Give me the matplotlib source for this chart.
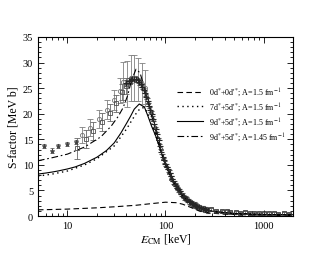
import matplotlib
matplotlib.use("Agg")
import matplotlib.pyplot as plt
from matplotlib.ticker import MultipleLocator, NullFormatter

plt.rcParams['font.family'] = ['Liberation Serif', 'DejaVu Serif']
plt.rcParams['mathtext.fontset'] = 'stix'

# theory curves
x_dash = [5, 10, 20, 30, 50, 70, 100, 130, 150, 180, 220, 280, 400, 1000, 2000]
y_dash = [1.2, 1.35, 1.6, 1.8, 2.1, 2.4, 2.7, 2.6, 2.3, 1.7, 1.0, 0.6, 0.35, 0.15, 0.1]

x_dot = [5, 7, 10, 15, 20, 30, 40, 45, 50, 55, 60, 65, 70, 80, 90, 100, 120, 150, 200, 300, 500, 1000, 2000]
y_dot = [7.8, 8.2, 8.8, 10.0, 11.2, 13.7, 17.0, 18.6, 20.0, 21.0, 21.2, 20.3, 18.8, 15.8, 12.6, 10.0, 6.6, 3.9, 2.0, 0.9, 0.5, 0.3, 0.25]

x_solid = [5, 6, 7, 8, 10, 12, 15, 20, 25, 30, 35, 40, 44, 48, 54, 61, 66, 72, 80, 90, 100, 120, 150, 200, 300, 500, 1000, 2000]
y_solid = [8.2, 8.4, 8.6, 8.8, 9.2, 9.6, 10.3, 11.5, 12.8, 14.3, 16.2, 18.1, 19.5, 20.9, 21.9, 21.3, 19.6, 17.6, 15.5, 12.6, 10.0, 6.6, 3.9, 2.0, 0.9, 0.5, 0.3, 0.25]

x_dd = [5, 7, 10, 15, 22, 28, 33, 37, 41, 45, 50, 55, 60, 65, 70, 80, 90, 100, 120, 150, 200, 300, 500, 1000, 2000]
y_dd = [10.8, 11.4, 12.1, 13.5, 15.5, 17.6, 19.5, 21.2, 23.5, 26.5, 28.7, 28.0, 25.5, 23.0, 20.5, 16.5, 13.0, 10.3, 6.7, 3.9, 2.0, 0.9, 0.5, 0.3, 0.25]

# experimental data
x_star = [5.7, 7.0, 8.1, 9.9, 12.1]
y_star = [13.7, 12.8, 13.6, 14.1, 14.4]
e_star = [0.4, 0.4, 0.4, 0.4, 0.4]

x_sq = [12.6, 15.3, 18.3, 22.5, 27.0, 31.5, 36.0, 40.0]
y_sq = [13.2, 15.0, 16.6, 18.4, 20.2, 22.0, 24.3, 25.4]
e_sq = [2.0, 1.8, 1.8, 1.7, 1.7, 1.6, 1.6, 1.5]

x_circ = [14.0, 17.0, 21.0, 25.5, 30.0, 34.0, 37.0, 40.5, 44.0, 48.0, 52.0, 57.0, 62.0]
y_circ = [15.8, 17.3, 19.0, 20.8, 22.7, 24.5, 26.2, 25.8, 26.9, 27.0, 26.6, 25.9, 25.0]
e_circ = [1.6, 1.6, 1.7, 1.8, 2.0, 2.5, 4.0, 4.5, 4.5, 4.5, 4.2, 4.0, 3.5]

x_band = [40, 42, 44, 46, 48, 50, 52, 54, 56, 58, 60, 62, 64, 66, 68, 70, 72, 74, 77, 80,
          82, 85, 88, 91, 94, 97, 100, 103, 106, 110, 113, 117, 120, 124, 128, 132, 135, 140,
          145, 150, 155, 160, 165, 172, 178, 185, 190, 198, 205, 212, 220, 230, 240, 250, 260, 272]
y_band = [26.0, 26.4, 26.6, 26.8, 26.8, 26.7, 26.5, 26.2, 25.8, 25.3, 24.6, 24.0, 23.3, 22.5, 21.6, 20.8, 20.0, 19.0, 18.0, 17.0,
          16.0, 14.8, 13.6, 12.6, 11.6, 10.9, 10.2, 9.6, 9.1, 8.4, 7.9, 7.3, 6.8, 6.3, 5.9, 5.5, 5.2, 4.8,
          4.4, 4.0, 3.7, 3.4, 3.2, 2.9, 2.7, 2.5, 2.3, 2.15, 2.0, 1.85, 1.7, 1.55, 1.45, 1.35, 1.25, 1.15]

x_tri = [43, 47, 51, 55, 59, 63, 67, 71, 75, 79, 84, 89, 95, 101, 108, 115, 123, 131, 140, 150,
         160, 170, 182, 195, 210, 225, 245, 265]
y_tri = [26.2, 26.9, 26.9, 26.3, 25.2, 23.8, 22.2, 20.6, 18.9, 17.4, 15.2, 13.2, 11.4, 10.0, 8.7, 7.5, 6.5, 5.7, 4.9, 4.2,
         3.6, 3.1, 2.7, 2.3, 2.0, 1.75, 1.5, 1.3]

x_hi = [290, 330, 380, 420, 460, 520, 580, 650, 720, 800, 900, 1000, 1130, 1270, 1420, 1600, 1800]
y_hi = [1.3, 1.0, 0.9, 0.9, 0.8, 0.7, 0.65, 0.7, 0.55, 0.6, 0.5, 0.6, 0.5, 0.55, 0.4, 0.5, 0.45]
e_hi = [0.3, 0.25, 0.25, 0.25, 0.2, 0.2, 0.2, 0.2, 0.2, 0.2, 0.2, 0.2, 0.2, 0.2, 0.2, 0.2, 0.2]

fig = plt.figure(figsize=(3.3, 2.55), dpi=100)
ax = fig.add_axes([0.115, 0.149, 0.773, 0.702])

ax.errorbar(x_circ, y_circ, yerr=e_circ, fmt='o', ms=3, mfc='none', mec='0.45', ecolor='0.5',
            elinewidth=0.6, capsize=2, capthick=0.6, mew=0.6)
ax.errorbar(x_sq, y_sq, yerr=e_sq, fmt='s', ms=2.5, mfc='none', mec='0.3', ecolor='0.4',
            elinewidth=0.6, capsize=2, capthick=0.6, mew=0.6)
ax.errorbar(x_star, y_star, yerr=e_star, fmt='*', ms=3.5, color='0.25', ecolor='0.3',
            elinewidth=0.6, capsize=1.5, capthick=0.6, mew=0.5)
ax.errorbar(x_band, y_band, yerr=[0.5] * len(x_band), fmt='+', ms=4, color='0.15', ecolor='0.35',
            elinewidth=0.5, capsize=1.5, capthick=0.5, mew=0.8)
ax.plot(x_tri, y_tri, '^', ms=3, mfc='none', mec='0.3', mew=0.6)
ax.errorbar(x_hi, y_hi, yerr=e_hi, fmt='s', ms=2.5, mfc='none', mec='0.2', ecolor='0.3',
            elinewidth=0.5, capsize=1.5, capthick=0.5, mew=0.6)

ax.plot(x_dash, y_dash, color='black', lw=0.8, ls=(0, (5, 3)),
        label="0d$^{*}$+0d$'^{*}$; A=1.5 fm$^{-1}$")
ax.plot(x_dot, y_dot, color='black', lw=1.0, ls=(0, (1, 2.5)),
        label="7d$^{*}$+5d$'^{*}$; A=1.5 fm$^{-1}$")
ax.plot(x_solid, y_solid, color='black', lw=0.8, ls='-',
        label="9d$^{*}$+5d$'^{*}$; A=1.5 fm$^{-1}$")
ax.plot(x_dd, y_dd, color='black', lw=0.8, ls=(0, (6, 2.5, 1.5, 2.5)),
        label="9d$^{*}$+5d$'^{*}$; A=1.45 fm$^{-1}$")

ax.set_xscale('log')
ax.set_xlim(5, 2000)
ax.set_ylim(0, 35)
ax.set_xticks([10, 100, 1000])
ax.set_xticklabels(['10', '100', '1000'])
ax.xaxis.set_minor_formatter(NullFormatter())
ax.yaxis.set_major_locator(MultipleLocator(5))
ax.yaxis.set_minor_locator(MultipleLocator(1))
ax.tick_params(which='both', direction='in', top=True, right=True, labelsize=7.5, width=0.6)
ax.tick_params(which='major', length=4)
ax.tick_params(which='minor', length=2)
for s in ax.spines.values():
    s.set_linewidth(0.8)

ax.set_xlabel("$E_{\\rm CM}$ [keV]", fontsize=8.5, labelpad=1)
ax.set_ylabel("S-factor [MeV b]", fontsize=8.5, labelpad=2)

ax.legend(loc='center right', bbox_to_anchor=(1.0, 0.57), frameon=False, fontsize=5.8,
          handlelength=3.2, handletextpad=0.8, labelspacing=0.3)

fig.savefig('out.png', dpi=100)
